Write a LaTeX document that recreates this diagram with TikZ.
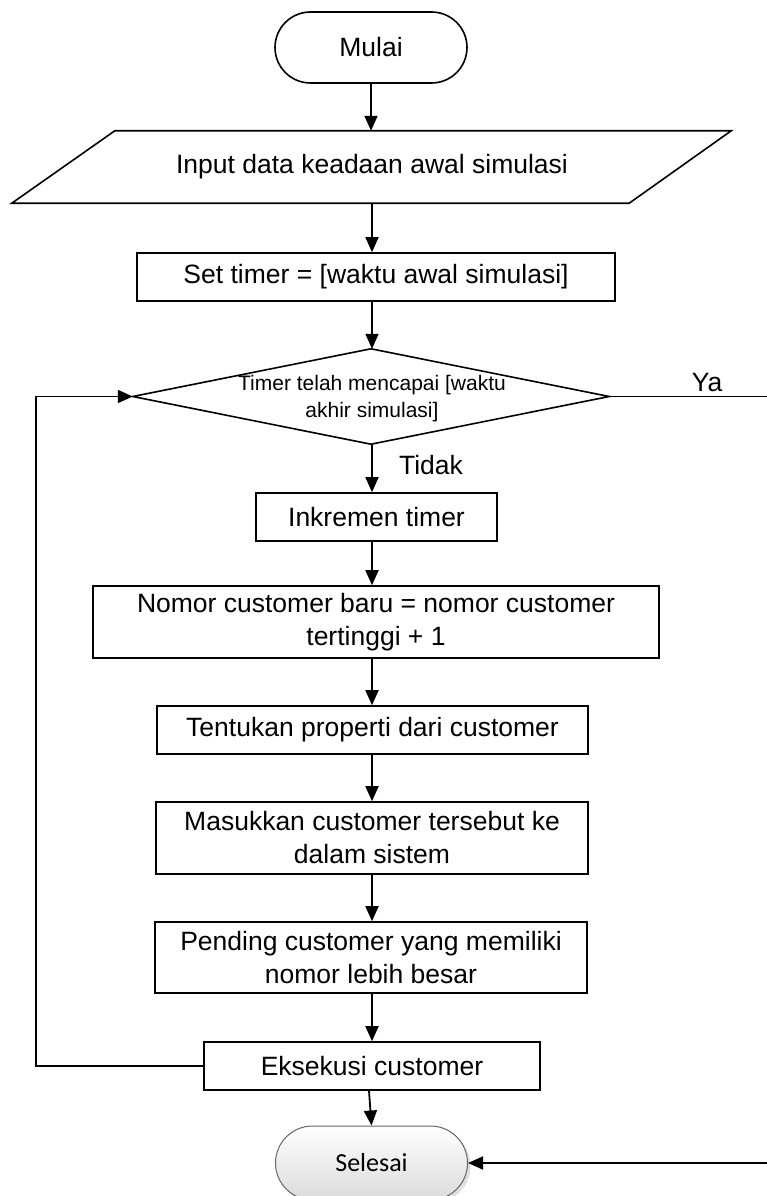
\documentclass[tikz,border=0pt]{standalone}
\usepackage{fontspec}
\setmainfont{Liberation Sans}
\newfontfamily\carlitofont{Carlito}
\usetikzlibrary{arrows.meta,shapes.misc,shadows}
\begin{document}
\begin{tikzpicture}[x=1pt,y=-1pt,
  mainfs/.style={font=\fontsize{26.5}{33}\selectfont},
  proc/.style={draw,line width=1.6pt,inner sep=0pt,align=center,fill=white,mainfs},
  term/.style={draw,line width=1.6pt,rounded rectangle,inner sep=0pt,minimum width=192pt,minimum height=71pt,mainfs},
  plain/.style={inner sep=0pt,align=center,mainfs},
  arr/.style={line width=1.8pt,-{Triangle[length=15pt,width=13pt]}},
  conn/.style={line width=1.8pt}]
\useasboundingbox (0,0) rectangle (767,1196);
\clip (0,0) rectangle (767,1196);

% nodes
\node[term] (mulai) at (371,47.5) {Mulai};
\node[plain,minimum width=514pt,minimum height=72pt] (input) at (372,167) {Input data keadaan awal simulasi};
\draw[line width=1.6pt] (input.north west) -- ([xshift=102pt]input.north east) -- (input.south east) -- ([xshift=-103pt]input.south west) -- cycle;
\node[proc,minimum width=478pt,minimum height=48pt] (set) at (376,277) {Set timer = [waktu awal simulasi]};
\node[inner sep=0pt,minimum width=476pt,minimum height=95pt] (dec) at (371,396.5) {};
\draw[line width=1.6pt] (dec.north) -- (dec.east) -- (dec.south) -- (dec.west) -- cycle;
\node[inner sep=0pt,align=center,font=\fontsize{21}{27}\selectfont] (dectext) at (372,398.5) {Timer telah mencapai [waktu\\akhir simulasi]};
\node[proc,minimum width=241pt,minimum height=48pt] (ink) at (376.5,517) {Inkremen timer};
\node[proc,minimum width=566pt,minimum height=72pt] (nomor) at (376,622) {Nomor customer baru = nomor customer\\tertinggi + 1};
\node[proc,minimum width=431pt,minimum height=48pt] (tentu) at (372.5,730) {Tentukan properti dari customer};
\node[proc,minimum width=432pt,minimum height=72pt] (masuk) at (372,838) {Masukkan customer tersebut ke\\dalam sistem};
\node[proc,minimum width=432pt,minimum height=71pt] (pend) at (371,957.5) {Pending customer yang memiliki\\nomor lebih besar};
\node[proc,minimum width=336pt,minimum height=48pt] (eks) at (372,1066) {Eksekusi customer};
\node[draw=gray!80!black,line width=1pt,rounded rectangle,inner sep=0pt,minimum width=192pt,minimum height=74pt,
      top color=white,bottom color=gray!28,
      drop shadow={opacity=0.25,shadow xshift=3pt,shadow yshift=-3pt},
      font=\carlitofont\fontsize{26}{31}\selectfont] (selesai) at (371.5,1163) {Selesai};

\node[plain] (ya) at (707,383) {Ya};
\node[plain] (tidak) at (431,465) {Tidak};

% connectors
\coordinate (ax) at (372,0);
\coordinate (yr) at (790,396.5);
\draw[arr] (mulai.south) -- (input.north -| mulai.south);
\draw[arr] (input.south -| ax) -- (set.north -| ax);
\draw[arr] (set.south -| ax) -- (dec.north -| ax);
\draw[arr] (dec.south -| ax) -- (ink.north -| ax);
\draw[arr] (ink.south -| ax) -- (nomor.north -| ax);
\draw[arr] (nomor.south -| ax) -- (tentu.north -| ax);
\draw[arr] (tentu.south -| ax) -- (masuk.north -| ax);
\draw[arr] (masuk.south -| ax) -- (pend.north -| ax);
\draw[arr] (pend.south -| ax) -- (eks.north -| ax);
\draw[arr] ([xshift=-3pt]eks.south) -- (selesai.north);
\draw[arr] (eks.west) -- ++(-167,0) |- (dec.west);
\draw[arr] (dec.east) -- (yr) |- (selesai.east);
\end{tikzpicture}
\end{document}
